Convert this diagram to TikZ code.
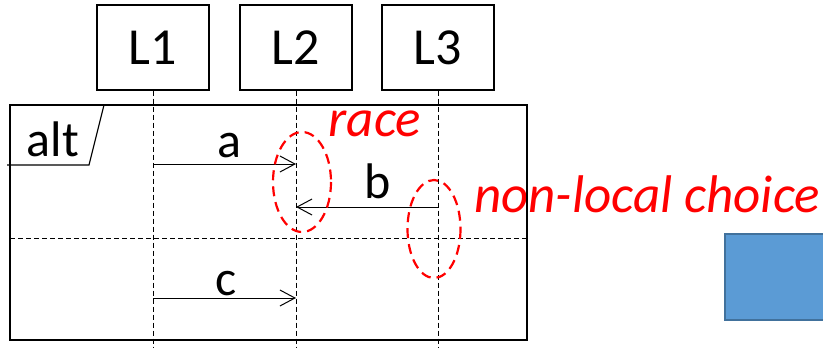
\documentclass[tikz,border=0pt]{standalone}
\usepackage{fontspec}
\setmainfont{Carlito}
\usetikzlibrary{arrows.meta}
\begin{document}
\begin{tikzpicture}[x=1pt,y=-1pt,
  lifebox/.style={draw,line width=1.3pt,minimum width=112pt,minimum height=85pt,inner sep=0pt,font=\fontsize{52}{52}\selectfont},
  lifeline/.style={line width=0.9pt,dash pattern=on 5pt off 3pt},
  msg/.style={line width=1pt,-{Straight Barb[length=15pt,width=16pt,line width=1pt]}},
  msglabel/.style={font=\fontsize{50}{50}\selectfont,inner sep=0pt},
  choice/.style={red,line width=2.2pt,dash pattern=on 10pt off 6pt},
  redtext/.style={red,font=\fontsize{53}{53}\selectfont\itshape,inner sep=0pt}]
\useasboundingbox (0,0) rectangle (823,364);

% lifeline heads
\node[lifebox] (L1) at (153,47.5) {L1};
\node[lifebox] (L2) at (296,47.5) {L2};
\node[lifebox] (L3) at (438,47.5) {L3};

% lifeline ends
\coordinate (e1) at (153,348);
\coordinate (e2) at (296,348);
\coordinate (e3) at (438,348);

% annotations
\node[redtext,anchor=base] (race) at (375,136) {race};
\node[redtext,anchor=base west] (nlc) at (474,212) {non-local choice};

% alt fragment
\draw[line width=1.8pt] (10,105) rectangle (527,340);
\draw[line width=1.2pt] (7,165) -- (89,165) -- (104,105);
\node[msglabel,anchor=base] (alt) at (53,156) {alt};
\draw[lifeline] (10,238) -- (527,238);

% lifelines
\draw[lifeline] (L1.south) -- (e1);
\draw[lifeline] (L2.south) -- (e2);
\draw[lifeline] (L3.south) -- (e3);

% messages
\coordinate (a1) at (153,164); \coordinate (a2) at (296,164);
\coordinate (b1) at (438,207); \coordinate (b2) at (296,207);
\coordinate (c1) at (153,298); \coordinate (c2) at (296,298);
\draw[msg] (a1) -- (a2);
\draw[msg] (b1) -- (b2);
\draw[msg] (c1) -- (c2);
\node[msglabel,anchor=base] (la) at (229,157) {a};
\node[msglabel,anchor=base] (lb) at (378,198) {b};
\node[msglabel,anchor=base] (lc) at (226,295) {c};

% race / choice regions
\draw[choice] (302,182) ellipse [x radius=29,y radius=50];
\draw[choice] (434,229) ellipse [x radius=26.5,y radius=49];

% blue block
\draw[fill={rgb,255:red,91;green,155;blue,213},draw={rgb,255:red,65;green,113;blue,156},line width=2pt] (725,234) rectangle (830,320);
\end{tikzpicture}
\end{document}
